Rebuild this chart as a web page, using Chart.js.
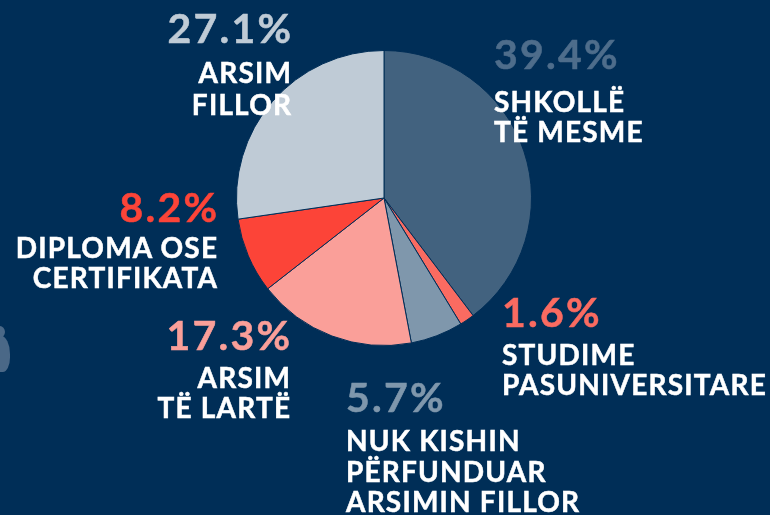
<!DOCTYPE html>
<html>
<head>
<meta charset="utf-8">
<script src="https://cdn.jsdelivr.net/npm/chart.js@4"></script>
<style>
  html, body { margin: 0; padding: 0; background: #002e57; }
  #wrap { position: relative; width: 770px; height: 515px; overflow: hidden; background: #002e57; }
  #c { position: absolute; left: 0; top: 0; }
  .ln { position: absolute; white-space: nowrap; font-family: Lato, "Open Sans", sans-serif; font-weight: 700; line-height: 1; -webkit-text-stroke: 0.5px currentColor; }
  .blob { position: absolute; background: #4a6887; }
</style>
</head>
<body>
<div id="wrap">
  <div class="blob" style="left:-6px;top:326px;width:11px;height:12px;border-radius:50%;"></div>
  <div class="blob" style="left:-8px;top:336px;width:18px;height:36px;border-radius:45% 50% 40% 30%;"></div>
  <canvas id="c" width="770" height="515"></canvas>
</div>
<script>
// ---- data ----
const categories = [
  ["SHKOLLË", "TË MESME"],
  ["STUDIME", "PASUNIVERSITARE"],
  ["NUK KISHIN", "PËRFUNDUAR", "ARSIMIN FILLOR"],
  ["ARSIM", "TË LARTË"],
  ["DIPLOMA OSE", "CERTIFIKATA"],
  ["ARSIM", "FILLOR"]
];
const shares = [39.4, 1.6, 5.7, 17.3, 8.2, 27.1];
const shareLabels = ["39.4%", "1.6%", "5.7%", "17.3%", "8.2%", "27.1%"];

// ---- styles ----
const sliceColors = ["#42627f", "#fa6b61", "#7f97ac", "#fa9f99", "#fc4438", "#bfcbd6"];
const pctColors   = ["#4e6d8b", "#fa6b61", "#7f97ac", "#fa9f99", "#fc4438", "#bfcbd6"];
// label layout: anchor x, align, percent baseline, first name baseline, line step
const labelLayout = [
  { x: 494, align: "left",  pct: 69,  name: 112, step: 30 },
  { x: 502, align: "left",  pct: 327, name: 365, step: 30 },
  { x: 346, align: "left",  pct: 412, name: 451, step: 30.5 },
  { x: 290, align: "right", pct: 350, name: 388, step: 29.5 },
  { x: 217, align: "right", pct: 222, name: 258, step: 29.5 },
  { x: 291, align: "right", pct: 43,  name: 83,  step: 32 }
];
const PCT_FONT = 41, NAME_FONT = 28;
const PCT_LS = 2.2, NAME_LS = 1.2;

const bg = "#002e57";
const chart = new Chart(document.getElementById("c"), {
  type: "pie",
  data: {
    labels: categories.map(c => c.join(" ")),
    datasets: [{
      data: shares,
      backgroundColor: sliceColors,
      borderColor: bg,
      borderWidth: 1
    }]
  },
  options: {
    responsive: false,
    animation: false,
    layout: { padding: { top: 50, bottom: 169, left: 236, right: 238 } },
    plugins: { legend: { display: false }, tooltip: { enabled: false } }
  }
});

// ---- text labels as real HTML text ----
const wrap = document.getElementById("wrap");
function baselineOffset(size) {
  const d = document.createElement("div");
  d.className = "ln";
  d.style.fontSize = size + "px";
  d.style.visibility = "hidden";
  d.innerHTML = 'X<span style="display:inline-block;width:0;height:0;vertical-align:baseline"></span>';
  wrap.appendChild(d);
  const r = d.lastChild.getBoundingClientRect().top - d.getBoundingClientRect().top;
  wrap.removeChild(d);
  return r;
}
function addLine(text, size, ls, color, x, align, baseline, off) {
  const d = document.createElement("div");
  d.className = "ln";
  d.textContent = text;
  d.style.fontSize = size + "px";
  d.style.letterSpacing = ls + "px";
  d.style.color = color;
  d.style.top = (baseline - off) + "px";
  if (align === "left") d.style.left = x + "px";
  else { d.style.right = (770 - x) + "px"; d.style.marginRight = (-ls) + "px"; }
  wrap.appendChild(d);
}
function drawLabels() {
  const offP = baselineOffset(PCT_FONT), offN = baselineOffset(NAME_FONT);
  shares.forEach((v, i) => {
    const L = labelLayout[i];
    addLine(shareLabels[i], PCT_FONT, PCT_LS, pctColors[i], L.x, L.align, L.pct, offP);
    categories[i].forEach((t, j) => {
      addLine(t, NAME_FONT, NAME_LS, "#ffffff", L.x, L.align, L.name + j * L.step, offN);
    });
  });
}
if (document.fonts && document.fonts.ready) {
  document.fonts.load("700 40px Lato").then(drawLabels, drawLabels);
} else drawLabels();
</script>
</body>
</html>
